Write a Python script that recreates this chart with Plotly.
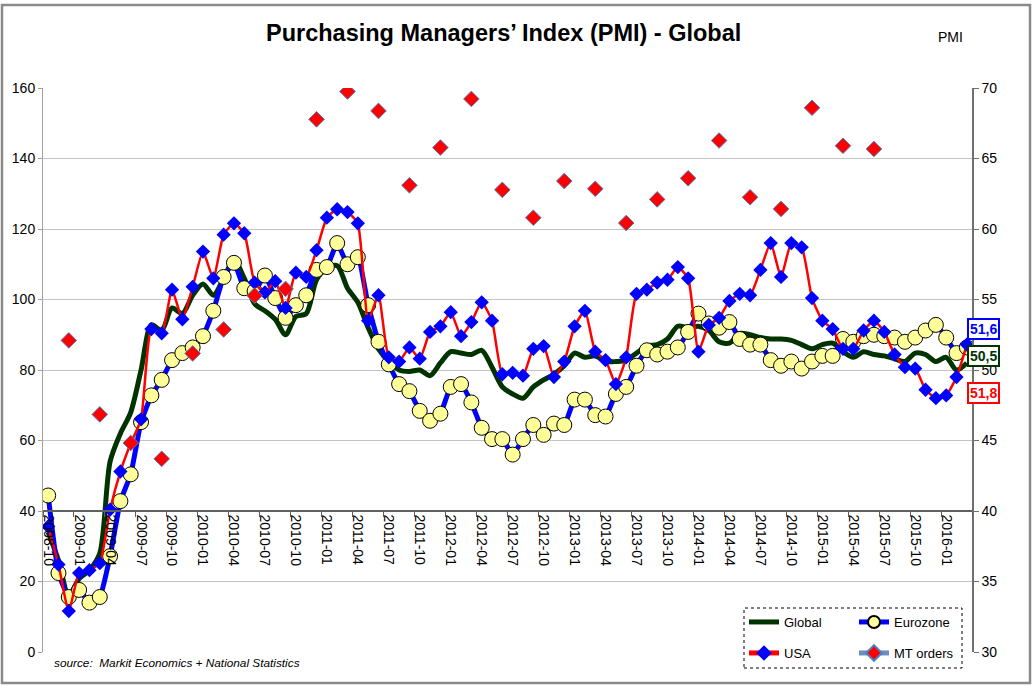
import plotly.graph_objects as go

# ---------------- data ----------------
months = []
for yr in range(2008, 2017):
    for mo in range(1, 13):
        if (yr == 2008 and mo < 10) or (yr == 2016 and mo > 3):
            continue
        months.append(f"{yr}-{mo:02d}")

global_pmi = [38.5, 36.5, 34.0,
              35.2, 35.8, 37.0, 43.5, 45.5, 47.0, 50.0, 53.2, 52.8, 54.4, 54.0, 55.3,
              56.1, 55.3, 56.5, 57.8, 56.5, 54.7, 54.2, 53.6, 52.5, 53.8, 54.0, 56.4,
              57.2, 57.4, 55.8, 54.8, 53.0, 51.5, 50.6, 50.0, 49.9, 50.0, 49.6, 50.5,
              51.3, 51.2, 51.1, 51.4, 50.2, 48.8, 48.3, 48.0, 48.8, 49.3, 49.7, 50.3,
              51.2, 50.9, 51.0, 50.6, 50.6, 50.7, 51.2, 51.7, 51.8, 52.2, 53.1, 53.0,
              53.1, 52.8, 52.0, 51.9, 52.6, 52.5, 52.3, 52.2, 52.2, 52.1, 51.8, 51.5,
              51.8, 51.9, 51.3, 50.9, 51.3, 51.1, 51.0, 50.8, 50.6, 51.2, 51.1, 50.6,
              50.9, 50.0, 50.5]

eurozone = [41.1, 35.6, 33.9,
            34.4, 33.5, 33.9, 36.8, 40.7, 42.6, 46.3, 48.2, 49.3, 50.7, 51.2, 51.6,
            52.4, 54.2, 56.6, 57.6, 55.8, 55.6, 56.7, 55.1, 53.7, 54.6, 55.3, 57.1,
            57.3, 59.0, 57.5, 58.0, 54.6, 52.0, 50.4, 49.0, 48.5, 47.1, 46.4, 46.9,
            48.8, 49.0, 47.7, 45.9, 45.1, 45.1, 44.0, 45.1, 46.1, 45.4, 46.2, 46.1,
            47.9, 47.9, 46.8, 46.7, 48.3, 48.8, 50.3, 51.4, 51.1, 51.3, 51.6, 52.7,
            54.0, 53.3, 53.0, 53.4, 52.2, 51.8, 51.8, 50.7, 50.3, 50.6, 50.1, 50.6,
            51.0, 51.0, 52.2, 52.0, 52.4, 52.5, 52.4, 52.3, 52.0, 52.3, 52.8, 53.2,
            52.3, 51.2, 51.6]

usa = [38.9, 36.2, 32.9,
       35.6, 35.8, 36.3, 40.1, 42.8, 44.8, 46.5, 52.9, 52.6, 55.7, 53.6, 55.9,
       58.4, 56.5, 59.6, 60.4, 59.7, 56.2, 55.5, 56.3, 54.4, 56.9, 56.6, 58.5,
       60.8, 61.4, 61.2, 60.4, 53.5, 55.3, 50.9, 50.6, 51.6, 50.8, 52.7, 53.1,
       54.1, 52.4, 53.4, 54.8, 53.5, 49.7, 49.8, 49.6, 51.5, 51.7, 49.5, 50.6,
       53.1, 54.2, 51.3, 50.7, 49.0, 50.9, 55.4, 55.7, 56.2, 56.4, 57.3, 56.5,
       51.3, 53.2, 53.7, 54.9, 55.4, 55.3, 57.1, 59.0, 56.6, 59.0, 58.7, 55.1,
       53.5, 52.9, 51.5, 51.5, 52.8, 53.5, 52.7, 51.1, 50.2, 50.1, 48.6, 48.0,
       48.2, 49.5, 51.8]

mt_months = ["2008-12", "2009-03", "2009-06", "2009-09", "2009-12", "2010-03",
             "2010-06", "2010-09", "2010-12", "2011-03", "2011-06", "2011-09",
             "2011-12", "2012-03", "2012-06", "2012-09", "2012-12", "2013-03",
             "2013-06", "2013-09", "2013-12", "2014-03", "2014-06", "2014-09",
             "2014-12", "2015-03", "2015-06"]
mt_orders = [88.4, 67.4, 59.3, 54.8, 84.7, 91.5, 101.1, 103.0, 151.1, 159.0,
             153.5, 132.4, 143.1, 156.9, 131.1, 123.2, 133.6, 131.4, 121.7,
             128.4, 134.4, 145.1, 129.0, 125.7, 154.4, 143.6, 142.7]

last_labels = ["51,6", "50,5", "51,8"]

# ---------------- geometry helpers ----------------
W, H = 1032, 685
ML, MR, MT, MB = 43, 60, 88, 33
PW, PH = W - ML - MR, H - MT - MB


def px(xp):
    return (xp - ML) / PW


def py(yp):
    return (H - MB - yp) / PH


FONT = "Arial, Liberation Sans, sans-serif"

mt_map = dict(zip(mt_months, mt_orders))
mt_full = [mt_map.get(m) for m in months]

fig = go.Figure()
fig.add_trace(go.Scatter(
    x=months, y=global_pmi, name="Global", mode="lines",
    line=dict(color="#003300", width=5, shape="spline", smoothing=0.8),
    yaxis="y", legend="legend"))
fig.add_trace(go.Scatter(
    x=months, y=eurozone, name="Eurozone", mode="lines+markers",
    line=dict(color="#0000ff", width=5, shape="spline", smoothing=0.4),
    marker=dict(symbol="circle", size=15, color="#ffff99",
                line=dict(color="#000000", width=1)),
    yaxis="y", legend="legend"))
fig.add_trace(go.Scatter(
    x=months, y=usa, name="USA", mode="lines+markers",
    line=dict(color="#ff0000", width=2.5, shape="spline", smoothing=0.5),
    marker=dict(symbol="diamond", size=11, color="#0000ff"),
    yaxis="y", legend="legend2"))
fig.add_trace(go.Scatter(
    x=months, y=mt_full, name="MT orders", mode="lines+markers",
    connectgaps=False,
    line=dict(color="#6a8fc0", width=2),
    marker=dict(symbol="diamond", size=12, color="#ff0000",
                line=dict(color="#4f81bd", width=1)),
    yaxis="y2", legend="legend2"))

legend_common = dict(orientation="h", xanchor="left", yanchor="middle",
                     entrywidth=65, entrywidthmode="pixels", itemsizing="constant",
                     bgcolor="rgba(0,0,0,0)", font=dict(family=FONT, size=13, color="#000"),
                     itemwidth=30, tracegroupgap=0)

fig.update_layout(
    width=W, height=H, autosize=False,
    margin=dict(l=ML, r=MR, t=MT, b=MB),
    paper_bgcolor="white", plot_bgcolor="white",
    font=dict(family=FONT, color="#000"),
    showlegend=True,
    legend=dict(x=px(744), y=py(622), **legend_common),
    legend2=dict(x=px(744), y=py(653), **legend_common),
    xaxis=dict(type="category", range=[-0.5, len(months) - 0.5],
               tickmode="linear", tick0=0, dtick=3, tickson="boundaries",
               ticks="outside", ticklen=5, tickcolor="#606060",
               tickangle=90, tickfont=dict(family=FONT, size=14, color="#000"),
               anchor="free", position=0.25,
               showline=True, linecolor="#606060", linewidth=1.5,
               showgrid=False, zeroline=False),
    yaxis=dict(range=[30, 70], dtick=5, side="right",
               showline=True, linecolor="#707070", linewidth=1.5,
               ticks="outside", ticklen=5, tickcolor="#707070",
               tickfont=dict(family=FONT, size=14, color="#000"),
               showgrid=True, gridcolor="#c4c4c4", gridwidth=1, zeroline=False),
    yaxis2=dict(range=[0, 160], dtick=20, side="left", overlaying="y",
                showline=True, linecolor="#a0a0a0", linewidth=1,
                ticks="outside", ticklen=4, tickcolor="#a0a0a0",
                tickfont=dict(family=FONT, size=14, color="#000"),
                showgrid=False, zeroline=False),
)

annotations = [
    dict(text="<b>Purchasing Managers’ Index (PMI) - Global</b>", xref="paper", yref="paper",
         x=px(503), y=py(33), xanchor="center", yanchor="middle", showarrow=False,
         font=dict(family=FONT, size=23.5, color="#000")),
    dict(text="PMI", xref="paper", yref="paper", x=px(950), y=py(37),
         xanchor="center", yanchor="middle", showarrow=False,
         font=dict(family=FONT, size=14, color="#000")),
    dict(text="<i>source:  Markit Economics + National Statistics</i>", xref="paper", yref="paper",
         x=px(52), y=py(663), xanchor="left", yanchor="middle", showarrow=False,
         font=dict(family=FONT, size=11.8, color="#000")),
]
box_specs = [(last_labels[0], "#0000ff", 329), (last_labels[1], "#003300", 356),
             (last_labels[2], "#ff0000", 393)]
for txt, col, yy in box_specs:
    annotations.append(dict(text=f"<b>{txt}</b>", xref="paper", yref="paper",
                            x=px(983), y=py(yy), xanchor="center", yanchor="middle",
                            showarrow=False, bgcolor="white", bordercolor=col,
                            borderwidth=2, borderpad=1,
                            font=dict(family=FONT, size=14, color=col)))
fig.update_layout(annotations=annotations)

fig.update_layout(shapes=[
    dict(type="rect", xref="paper", yref="paper", x0=px(744), x1=px(962),
         y0=py(668), y1=py(608), line=dict(color="#000", width=1, dash="dot"),
         fillcolor="rgba(0,0,0,0)", layer="above"),
    dict(type="rect", xref="paper", yref="paper", x0=px(2), x1=px(1030),
         y0=py(683), y1=py(5), line=dict(color="#8a8a8a", width=2.5),
         fillcolor="rgba(0,0,0,0)", layer="above"),
])

fig.write_html(
    "out.html",
    config={"responsive": False, "displayModeBar": False},
    default_width="1032px", default_height="685px",
    post_script="document.body.style.margin='0';document.body.style.overflow='hidden';",
)
